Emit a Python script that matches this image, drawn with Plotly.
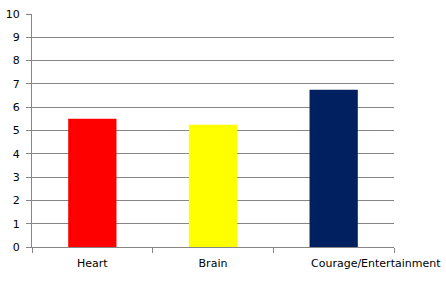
import plotly.graph_objects as go

categories = ["Heart", "Brain", "Courage/Entertainment"]
values = [5.5, 5.25, 6.75]
colors = ["#FF0000", "#FFFF00", "#002060"]
y_ticks = list(range(0, 11))

fig = go.Figure(go.Bar(x=categories, y=values, marker=dict(color=colors, line=dict(width=0)), width=0.4))

# Excel shifts the overflowing last label to the right; reproduce with an annotation
tick_text = categories[:-1] + [""]

fig.update_layout(
    width=446, height=291,
    margin=dict(l=32, r=52, t=14, b=44),
    plot_bgcolor="white", paper_bgcolor="white",
    showlegend=False,
    font=dict(family="DejaVu Sans", size=11, color="black"),
)
fig.add_annotation(
    x=categories[-1], y=0, xref="x", yref="y", text=categories[-1],
    showarrow=False, xanchor="left", yanchor="top", xshift=-25, yshift=-8,
    font=dict(size=11, family="DejaVu Sans", color="black"),
)
fig.update_xaxes(
    range=[-0.5, len(categories) - 0.5], autorange=False,
    showline=True, linecolor="#868686", linewidth=1,
    ticks="outside", tickson="boundaries", ticklen=5, tickcolor="#868686",
    showgrid=False, tickangle=0, automargin=False,
    tickvals=categories, ticktext=tick_text,
    tickfont=dict(size=11), ticklabelstandoff=6,
)
fig.update_yaxes(
    range=[0, 10], tickvals=y_ticks, showline=True, linecolor="#868686", linewidth=1,
    ticks="outside", ticklen=5, tickcolor="#868686", automargin=False,
    showgrid=True, gridcolor="#868686", gridwidth=1, zeroline=False,
    tickfont=dict(size=11), ticklabelstandoff=4,
)
fig.write_html("out.html")
